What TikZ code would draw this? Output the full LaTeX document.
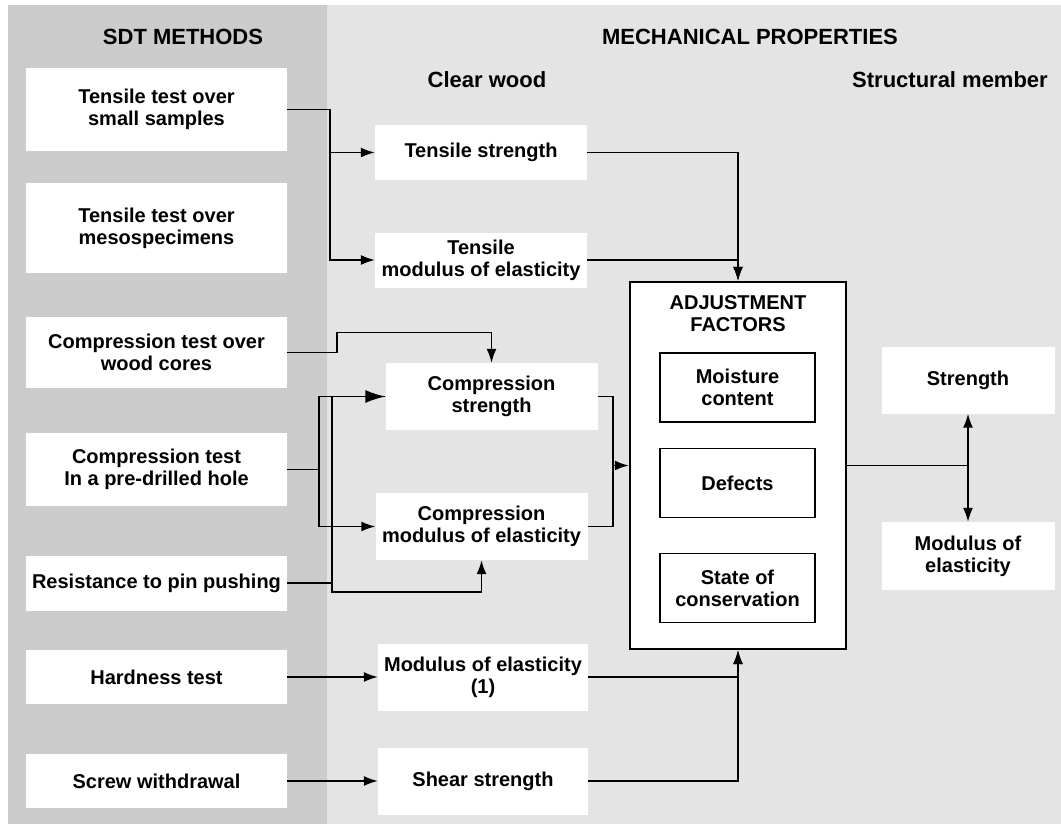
\documentclass[tikz,border=0pt]{standalone}
\usepackage{fontspec}
\setmainfont{Liberation Sans}
\usetikzlibrary{arrows.meta}
\usetikzlibrary{calc}

\definecolor{methodgray}{RGB}{204,204,204}
\definecolor{propgray}{RGB}{228,228,228}

\begin{document}
\begin{tikzpicture}[x=1pt,y=-1pt,
  every node/.style={font=\fontsize{20}{22}\selectfont\bfseries,align=center,inner sep=0pt},
  head/.style={font=\fontsize{22}{24}\selectfont\bfseries},
  method/.style={fill=white,minimum width=261pt},
  prop/.style={fill=white,minimum width=212pt,minimum height=55pt},
  factor/.style={draw,line width=1.6pt,minimum width=155pt,minimum height=69pt},
  result/.style={fill=white,minimum width=173pt,minimum height=67pt},
  link/.style={line width=1.6pt},
  conn/.style={link,-{Latex[length=14pt,width=10pt]}},
  big conn/.style={link,-{Latex[length=20pt,width=13pt]}}]

  \useasboundingbox (0,0) rectangle (1061,824);
  \fill[methodgray] (8,5) rectangle (327,824);
  \fill[propgray] (327,5) rectangle (1061,824);

  \node[head] (sdt) at (183,37) {SDT METHODS};
  \node[head] (mech) at (750,37) {MECHANICAL PROPERTIES};
  \node[head] (clear) at (487,80) {Clear wood};
  \node[head] (struct) at (950,80) {Structural member};

  \node[method,minimum height=83pt] (small) at (156.5,109.5) {Tensile test over\\small samples};
  \node[method,minimum height=90pt] (meso) at (156.5,228) {Tensile test over\\mesospecimens};
  \node[method,minimum height=71pt] (cores) at (156.5,352.5) {Compression test over\\wood cores};
  \node[method,minimum height=73pt] (hole) at (156.5,469.5) {Compression test\\In a pre-drilled hole};
  \node[method,minimum height=55pt] (pin) at (156.5,583) {Resistance to pin pushing};
  \node[method,minimum height=54pt] (hard) at (156.5,677) {Hardness test};
  \node[method,minimum height=54pt] (screw) at (156.5,781) {Screw withdrawal};

  \node[prop] (tstr) at (481,152.5) {Tensile strength};
  \node[prop] (tmoe) at (481,260) {Tensile\\modulus of elasticity};
  \node[prop,minimum height=67pt] (cstr) at (491.5,396.5) {Compression\\strength};
  \node[prop,minimum height=67pt] (cmoe) at (481.5,526.5) {Compression\\modulus of elasticity};
  \node[prop,minimum height=67pt,minimum width=210pt] (moe) at (483,677) {Modulus of elasticity\\(1)};
  \node[prop,minimum height=67pt,minimum width=210pt] (shear) at (483,781) {Shear strength};

  \node[draw,line width=2.4pt,fill=white,minimum width=216pt,minimum height=367pt] (adj) at (738,465.5) {};
  \node (adjtitle) at (738,314) {ADJUSTMENT\\FACTORS};
  \node[factor] (moist) at (737.5,387.5) {Moisture\\content};
  \node[factor] (defects) at (737.5,483) {Defects};
  \node[factor] (state) at (737.5,588) {State of\\conservation};

  \node[result] (str) at (968,380) {Strength};
  \node[result,minimum height=68pt] (emod) at (968,556) {Modulus of\\elasticity};

  \draw[conn] (small.east) -- ++(43,0) coordinate (tj) |- (tstr.west);
  \draw[conn] (tj) |- (tmoe.west);
  \draw[conn] (tstr.east) -| (adj.north);
  \draw[conn] (tmoe.east) -| (adj.north);

  \draw[conn] (cores.east) -- ++(50,0) -- ++(0,-20) -| (cstr.north);
  \draw[link] (pin.east) -- ++(45,0) coordinate (pj) |- (cstr.west);
  \draw[conn] (pj) -- ++(0,9) -| (cmoe.south);
  \draw[big conn] (hole.east) -- ++(32,0) coordinate (hj) |- (cstr.west);
  \draw[conn] (hj) |- (cmoe.west);
  \draw[conn] (cstr.east) -- ++(15,0) coordinate (cj) |- (adj.west);
  \draw[link] (cmoe.east) -| (cj);

  \draw[conn] (hard.east) -- (moe.west);
  \draw[conn] (screw.east) -- (shear.west);
  \draw[conn] (moe.east) -| (adj.south);
  \draw[conn] (shear.east) -| (adj.south);

  \draw[conn] (adj.east) -| (str.south);
  \draw[conn] (adj.east) -| (emod.north);
\end{tikzpicture}
\end{document}
